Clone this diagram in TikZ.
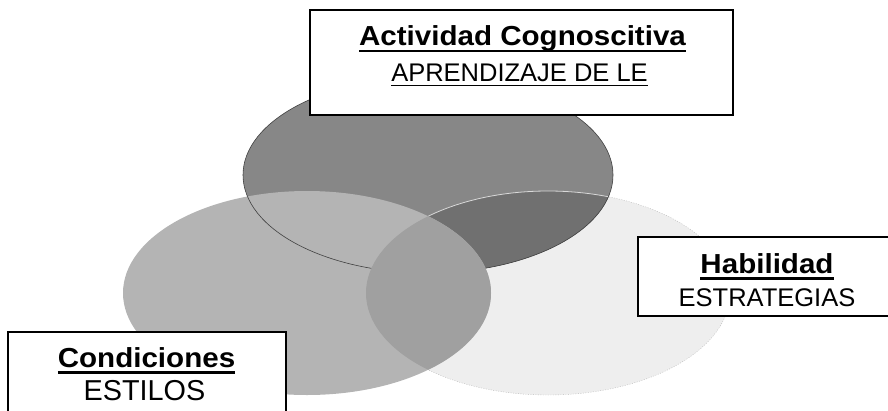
\documentclass[tikz,border=0pt]{standalone}
\usepackage{fontspec}
\setmainfont{Liberation Sans}
\newcommand\myul[3]{\setbox0=\hbox{#3}\leavevmode\rlap{\rule[-#1]{\wd0}{#2}}\box0}
\newcommand\ttl[1]{\scalebox{1.075}[1]{\fontsize{27.5}{30}\selectfont\bfseries\myul{6.6pt}{2.3pt}{#1}}}
\newcommand\sub[1]{\fontsize{25.5}{28}\selectfont#1}
\newcommand\subul[1]{\fontsize{25.5}{28}\selectfont\myul{5pt}{1.5pt}{#1}}
\definecolor{ctop}{HTML}{878787}
\definecolor{cleft}{HTML}{B4B4B4}
\definecolor{cright}{HTML}{EEEEEE}
\definecolor{ctopright}{HTML}{707070}
\definecolor{cleftright}{HTML}{A0A0A0}
\tikzset{
  box/.style={draw=black, line width=1.5pt, fill=white, inner sep=0pt},
  lbl/.style={anchor=base, inner sep=0pt, text=black},
}
\begin{document}
\begin{tikzpicture}[x=1pt,y=-1pt]
\useasboundingbox (0,0) rectangle (888,410);
\clip (0,0) rectangle (888,410);
\def\Etop{(428,175) ellipse [x radius=185pt, y radius=98pt]}
\def\Eleft{(307,293) ellipse [x radius=184pt, y radius=102pt]}
\def\Eright{(548,293) ellipse [x radius=182pt, y radius=102pt]}
% right ellipse base
\fill[cright] \Eright;
\draw[gray!55, line width=0.4pt, dash pattern=on 1pt off 1.5pt] \Eright;
% top ellipse
\fill[ctop] \Etop;
\begin{scope}
  \clip \Eright;
  \fill[ctopright] \Etop;
\end{scope}
\begin{scope}
  \clip \Etop;
  \draw[gray!30, line width=0.8pt] \Eright;
\end{scope}
% left ellipse
\fill[cleft] \Eleft;
% top outline
\draw[black!75, line width=0.6pt] \Etop;
\begin{scope}
  \clip \Eright;
  \fill[cleftright] \Eleft;
\end{scope}
% boxes
\node[box, minimum width=423pt, minimum height=105pt] (topbox) at (521.5,62.5) {};
\node[box, minimum width=258pt, minimum height=79pt] (habbox) at (767,276.5) {};
\node[box, minimum width=278pt, minimum height=95pt] (conbox) at (147,379.5) {};
% texts
\node[lbl] (topT) at (522.5,45.5) {\ttl{Actividad Cognoscitiva}};
\node[lbl] (topS) at (519.5,81) {\subul{APRENDIZAJE DE LE}};
\node[lbl] (habT) at (767,273) {\ttl{Habilidad}};
\node[lbl] (habS) at (767,306) {\sub{ESTRATEGIAS}};
\node[lbl] (conT) at (146.5,367) {\ttl{Condiciones}};
\node[lbl] (conS) at (144.5,400.5) {\fontsize{28.8}{30}\selectfont ESTILOS};
\end{tikzpicture}
\end{document}
